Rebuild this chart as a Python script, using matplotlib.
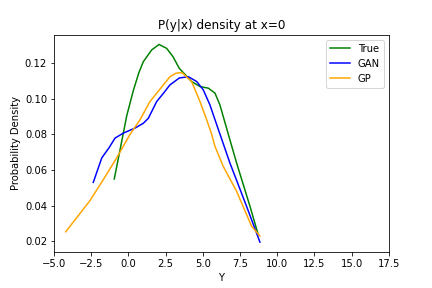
import matplotlib
matplotlib.use("Agg")
import matplotlib.pyplot as plt

true_x = [-0.95, -0.56, -0.11, 0.33, 0.7, 1.0, 1.56, 2.06, 2.57, 3.0, 3.42, 4.25, 4.81, 5.37, 5.82, 6.15, 6.71, 7.27, 8.17, 8.72]
true_y = [0.055, 0.0714, 0.0905, 0.1045, 0.1145, 0.1207, 0.1273, 0.1304, 0.1282, 0.1235, 0.117, 0.1096, 0.1068, 0.1059, 0.1031, 0.0965, 0.0802, 0.064, 0.0397, 0.0239]

gan_x = [-2.36, -1.79, -1.3, -0.9, -0.34, 0.44, 1.0, 1.34, 1.9, 2.4, 2.79, 3.42, 4.03, 4.59, 5.03, 5.48, 5.82, 6.15, 6.82, 7.94, 8.84]
gan_y = [0.0531, 0.0668, 0.0725, 0.0779, 0.0807, 0.0835, 0.0862, 0.089, 0.0984, 0.1035, 0.1077, 0.1116, 0.1123, 0.1096, 0.105, 0.0965, 0.0882, 0.0802, 0.064, 0.0397, 0.0196]

gp_x = [-4.21, -2.58, -1.69, -0.79, 0.11, 0.78, 1.45, 2.79, 3.2, 3.6, 4.25, 4.81, 5.26, 5.59, 5.82, 6.37, 7.27, 8.28, 8.84]
gp_y = [0.0254, 0.0429, 0.0546, 0.0668, 0.080, 0.0882, 0.0984, 0.1123, 0.1143, 0.1146, 0.1096, 0.0984, 0.0882, 0.0802, 0.0732, 0.0621, 0.0481, 0.0285, 0.023]

fig, ax = plt.subplots(figsize=(6, 4), dpi=72)
fig.subplots_adjust(bottom=0.125)
ax.plot(true_x, true_y, color="green", label="True")
ax.plot(gan_x, gan_y, color="blue", label="GAN")
ax.plot(gp_x, gp_y, color="orange", label="GP")
ax.set_xlim(-5, 17.5)
ax.set_title("P(y|x) density at x=0")
ax.set_xlabel("Y")
ax.set_ylabel("Probability Density")
ax.legend(loc="upper right")
fig.savefig("out.png", dpi=72)
